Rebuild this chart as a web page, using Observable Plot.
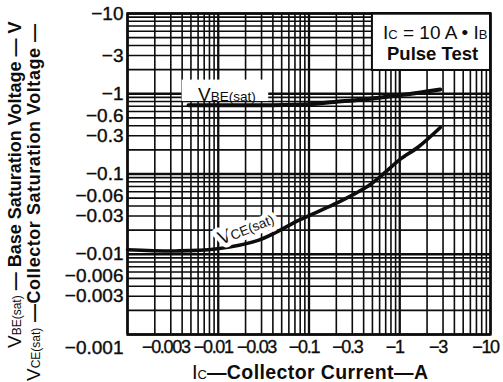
<!DOCTYPE html>
<html>
<head>
<meta charset="utf-8">
<script src="https://cdn.jsdelivr.net/npm/d3@7"></script>
<script src="https://cdn.jsdelivr.net/npm/@observablehq/plot@0.6"></script>
<style>
  html, body { margin: 0; padding: 0; background: #fff; }
  #chart svg { display: block; }
</style>
</head>
<body>
<div id="chart"></div>
<script>
// ---- data ----
const vbeCurrent = [-0.0047, -0.01, -0.035, -0.1, -0.19, -0.4, -0.94, -2.8];
const vbeVoltage = [-0.72, -0.72, -0.72, -0.74, -0.79, -0.85, -0.95, -1.13];

const vceCurrent = [-0.001, -0.0034, -0.0093, -0.028, -0.08, -0.19, -0.44, -0.66, -1.0, -1.6, -2.8];
const vceVoltage = [-0.0114, -0.011, -0.0116, -0.015, -0.027, -0.042, -0.07, -0.1, -0.151, -0.217, -0.38];

const xTickValues = [-0.003, -0.01, -0.03, -0.1, -0.3, -1, -3, -10];
const yTickValues = [-10, -3, -1, -0.6, -0.3, -0.1, -0.06, -0.03, -0.01, -0.006, -0.003];
const cornerTick = [-0.001];

// ---- derived tables ----
const vbe = vbeCurrent.map((c, i) => ({ic: c, v: vbeVoltage[i]}));
const vce = vceCurrent.map((c, i) => ({ic: c, v: vceVoltage[i]}));

const decades = [0.001, 0.01, 0.1, 1];
const gridMinor = decades.flatMap(k => d3.range(2, 10).map(m => -+(k * m).toPrecision(3)));
const gridMajor = [-0.001, -0.01, -0.1, -1, -10];

const fmt = d => "\u2212" + Math.abs(d);
const leadsWith6 = d => String(Math.abs(d)).replace(/[0.]/g, "").startsWith("6");
const ink = "#0d0d0d";
const font = "'Liberation Sans', Arial, Helvetica, sans-serif";

const chart = Plot.plot({
  width: 503,
  height: 382,
  marginLeft: 127,
  marginRight: 13,
  marginTop: 13,
  marginBottom: 48,
  style: {fontFamily: font, background: "#fff", color: ink},
  x: {type: "log", domain: [-0.001, -10], axis: null},
  y: {type: "log", domain: [-0.001, -10], axis: null},
  marks: [
    Plot.ruleX(gridMinor, {stroke: ink, strokeWidth: 1.6}),
    Plot.ruleY(gridMinor, {stroke: ink, strokeWidth: 1.6}),
    Plot.ruleX(gridMajor, {stroke: ink, strokeWidth: 2.3}),
    Plot.ruleY(gridMajor, {stroke: ink, strokeWidth: 2.3}),
    // legend box (top right)
    Plot.rect([0], {x1: -0.5, x2: -10, y1: -10, y2: -1.95, fill: "white", stroke: ink, strokeWidth: 2}),
    // white box behind the VBE(sat) label
    Plot.rect([0], {x1: -0.004, x2: -0.036, y1: -1.48, y2: -0.8, fill: "white"}),
    Plot.line(vbe, {x: "ic", y: "v", stroke: ink, strokeWidth: 4, curve: "catmull-rom"}),
    Plot.line(vce, {x: "ic", y: "v", stroke: ink, strokeWidth: 3.6, curve: "catmull-rom"}),
    Plot.frame({stroke: ink, strokeWidth: 2.4}),
    // tick labels
    Plot.text(xTickValues, {x: d => d, frameAnchor: "bottom", lineAnchor: "top", dy: 6, dx: -5,
      text: fmt, fontSize: 18, fill: ink}),
    Plot.text(yTickValues, {filter: d => !leadsWith6(d), y: d => d, frameAnchor: "left", textAnchor: "end", dx: -4,
      text: fmt, fontSize: 19, fill: ink}),
    Plot.text(yTickValues, {filter: leadsWith6, y: d => d, frameAnchor: "left", textAnchor: "end", dx: -4, dy: 4,
      text: fmt, fontSize: 19, fill: ink}),
    Plot.text(cornerTick, {y: d => d, frameAnchor: "left", textAnchor: "end", dx: -4, dy: 13,
      text: fmt, fontSize: 19, fill: ink})
  ]
});

document.getElementById("chart").appendChild(chart);

const svg = d3.select(chart);
// condense x tick labels, thicken tick labels slightly (scanned look)
svg.selectAll("g[aria-label='text']").each(function(d, i) {
  const g = d3.select(this);
  if (i === 0) g.selectAll("text").style("letter-spacing", "-1.3px").style("stroke", ink).style("stroke-width", 0.35);
  else g.selectAll("text").style("stroke", ink).style("stroke-width", 0.4);
});

function rich(parent, parts, attrs) {
  const t = parent.append("text").attr("fill", ink).attr("font-family", font).attr("text-anchor", "start");
  Object.entries(attrs || {}).forEach(([k, v]) => t.attr(k, v));
  parts.forEach(p => {
    const s = t.append("tspan").text(p.t).attr("font-size", p.size);
    if (p.weight) s.attr("font-weight", p.weight);
    if (p.ls) s.attr("letter-spacing", p.ls);
  });
  return t;
}

const ann = svg.append("g");
// y-axis titles (rotated)
rich(ann, [
  {t: "V", size: 19},
  {t: "BE(sat)", size: 12},
  {t: " \u2014 Base Saturation Voltage \u2014 V", size: 18, weight: "bold"}
], {transform: "translate(21,348) rotate(-90)"});
rich(ann, [
  {t: "V", size: 19},
  {t: "CE(sat)", size: 12},
  {t: " \u2014Collector Saturation Voltage \u2014", size: 18, weight: "bold", ls: 0.55}
], {transform: "translate(40,381) rotate(-90)"});

// x-axis title
rich(ann, [
  {t: "I", size: 20},
  {t: "C", size: 13},
  {t: "\u2014Collector Current\u2014A", size: 19.5, weight: "bold", ls: 0.4}
], {x: 192, y: 379});

// legend box text
rich(ann, [
  {t: "I", size: 19},
  {t: "C", size: 13},
  {t: " = 10 A \u2022 I", size: 19},
  {t: "B", size: 13}
], {x: 383, y: 39});
rich(ann, [{t: "Pulse Test", size: 18.5, weight: "bold"}], {x: 387, y: 60});

// curve labels
rich(ann, [
  {t: "V", size: 19},
  {t: "BE(sat)", size: 13.5}
], {x: 198, y: 101});
rich(ann, [
  {t: "V", size: 19},
  {t: "CE(sat)", size: 13.5}
], {transform: "translate(221,245) rotate(-22)", stroke: "white", "stroke-width": 9, "stroke-linejoin": "round", "paint-order": "stroke"});
</script>
</body>
</html>
